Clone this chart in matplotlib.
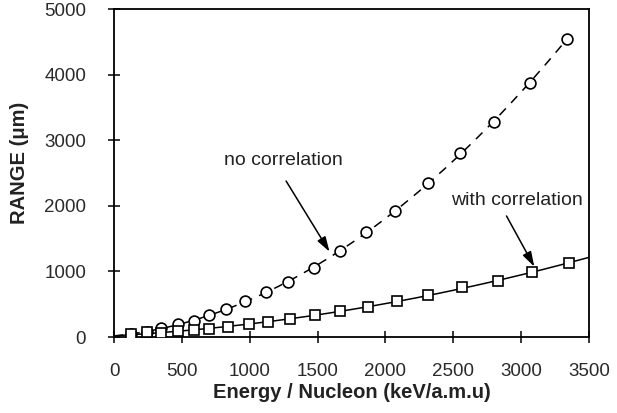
import numpy as np
import matplotlib
matplotlib.use("Agg")
import matplotlib.pyplot as plt

plt.rcParams.update({
    'font.family': ['Liberation Sans', 'DejaVu Sans'],
})

# range without correlation (circles)
e_no = [123, 241, 349, 473, 591, 701, 825, 965, 1120, 1285,
        1477, 1667, 1858, 2073, 2313, 2553, 2798, 3064, 3335]
r_no = [41, 81, 133, 198, 248, 335, 422, 549, 681, 843,
        1047, 1316, 1596, 1925, 2352, 2800, 3282, 3867, 4543]

# range with correlation (squares)
e_with = [123, 241, 349, 473, 586, 701, 837, 997, 1132, 1300,
          1482, 1667, 1870, 2087, 2313, 2567, 2830, 3077, 3352]
r_with = [41, 72, 56, 91, 107, 122, 148, 194, 224, 270,
          335, 401, 462, 549, 640, 758, 854, 986, 1123]

xticks = [0, 500, 1000, 1500, 2000, 2500, 3000, 3500]
yticks = [0, 1000, 2000, 3000, 4000, 5000]

fig = plt.figure(figsize=(6.17, 4.13), dpi=100)
ax = fig.add_axes([114/617, 76/413, 475/617, 328/413])

# smooth curves through each set of points
c_no = np.polyfit(e_no, r_no, 2)
xs_no = np.linspace(0, max(e_no), 200)
ax.plot(xs_no, np.polyval(c_no, xs_no), color='black', lw=1.1,
        dashes=(6, 5), zorder=1)

c_with = np.polyfit(e_with, r_with, 2)
xs_with = np.linspace(0, 3500, 200)
ax.plot(xs_with, np.polyval(c_with, xs_with), color='black', lw=1.1, zorder=1)

ax.plot(e_no, r_no, 'o', ms=7.8, mfc='white', mec='black', mew=1.2, zorder=3)
ax.plot(e_with, r_with, 's', ms=7.8, mfc='white', mec='black', mew=1.2, zorder=3)

arrow = dict(arrowstyle='-|>,head_length=0.9,head_width=0.28',
             color='black', lw=1.1, shrinkA=0, shrinkB=0)

ax.text(1248, 2698, 'no correlation', ha='center', va='center', fontsize=14,
        color='#222222')
ax.annotate('', xy=(1588, 1300), xytext=(1268, 2378), arrowprops=arrow)

ax.text(2966, 2088, 'with correlation', ha='center', va='center', fontsize=14,
        color='#222222')
ax.annotate('', xy=(3097, 1072), xytext=(2892, 1845), arrowprops=arrow)

ax.set_xlim(0, 3500)
ax.set_ylim(0, 5000)
ax.set_xticks(xticks)
ax.set_yticks(yticks)
ax.tick_params(direction='inout', length=8, width=1.1, labelsize=13.5,
               labelcolor='#2a2a2a')
ax.tick_params(axis='x', pad=15)
ax.tick_params(axis='y', pad=16)
for s in ax.spines.values():
    s.set_linewidth(1.3)

ax.set_xlabel('Energy / Nucleon (keV/a.m.u)', fontsize=14.5, fontweight='bold',
              color='#222222', labelpad=2)
ax.set_ylabel('RANGE (\u03bcm)', fontsize=14.5, fontweight='bold',
              color='#222222')
ax.yaxis.set_label_coords(-0.178, 0.53)

fig.savefig('out.png', dpi=100)
